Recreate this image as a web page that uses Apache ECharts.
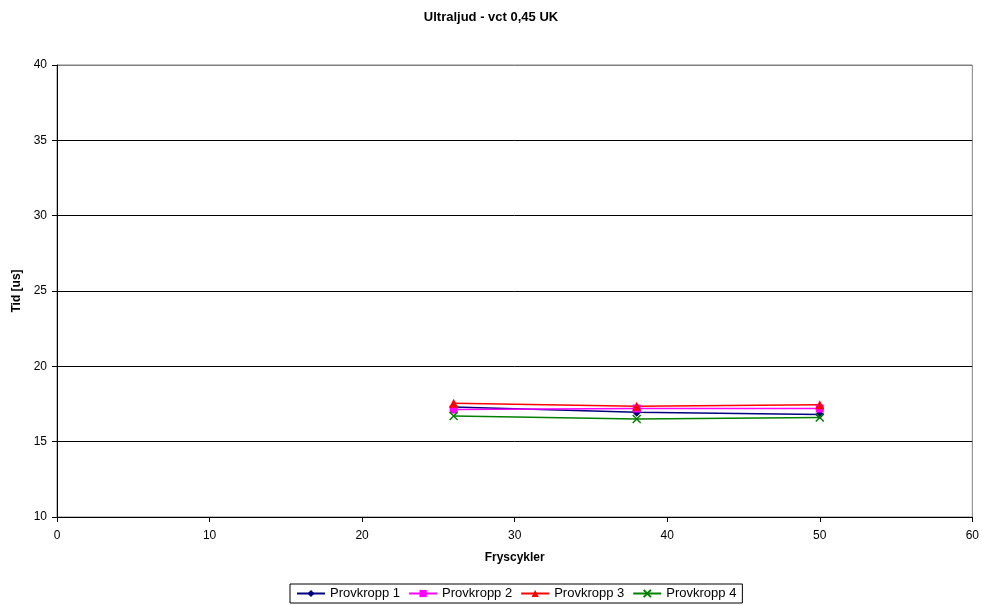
<!DOCTYPE html>
<html>
<head>
<meta charset="utf-8">
<script src="https://cdn.jsdelivr.net/npm/echarts@6/dist/echarts.min.js"></script>
<style>
  html, body { margin: 0; padding: 0; background: #fff; }
  #chart { width: 982px; height: 605px; }
</style>
</head>
<body>
<div id="chart"></div>
<script>
// Freeze cycles at which the ultrasonic transit time was measured
const cycles = [26, 38, 50];

// Transit time [us] for each specimen
const provkropp1 = [17.3, 16.95, 16.8];
const provkropp2 = [17.13, 17.2, 17.2];
const provkropp3 = [17.55, 17.35, 17.45];
const provkropp4 = [16.7, 16.5, 16.6];

const seriesNames = ['Provkropp 1', 'Provkropp 2', 'Provkropp 3', 'Provkropp 4'];
const seriesValues = [provkropp1, provkropp2, provkropp3, provkropp4];
const seriesColors = ['#000080', '#ff00ff', '#ff0000', '#008000'];
const crossPath = 'path://M0,0 L10,10 M10,0 L0,10';
const seriesSymbols = ['diamond', 'rect', 'triangle', crossPath];
const seriesSymbolSizes = [9, 8, 9, 8];

const font = 'Liberation Sans, Arial, sans-serif';

const chart = echarts.init(document.getElementById('chart'));

const series = seriesNames.map((name, i) => ({
  name: name,
  type: 'line',
  data: cycles.map((c, j) => [c, seriesValues[i][j]]),
  symbol: seriesSymbols[i],
  symbolSize: seriesSymbolSizes[i],
  showAllSymbol: true,
  lineStyle: { color: seriesColors[i], width: 1.5 },
  itemStyle: i === 3
    ? { color: 'none', borderColor: seriesColors[i], borderWidth: 1.5 }
    : { color: seriesColors[i], borderColor: seriesColors[i], borderWidth: 0 },
  emphasis: { disabled: true },
  animation: false
}));

chart.setOption({
  backgroundColor: '#fff',
  animation: false,
  textStyle: { fontFamily: font },
  title: {
    text: 'Ultraljud - vct 0,45 UK',
    left: 'center',
    top: 6,
    textStyle: { fontFamily: font, fontSize: 13, fontWeight: 'bold', color: '#000' }
  },
  legend: {
    data: seriesNames,
    bottom: 2,
    left: 290,
    itemWidth: 28,
    itemHeight: 9,
    itemGap: 8,
    padding: [3, 6, 3, 6],
    borderColor: '#000',
    borderWidth: 1,
    borderRadius: 0,
    textStyle: { fontFamily: font, fontSize: 13, color: '#000' }
  },
  grid: {
    left: 57,
    right: 7,
    top: 65,
    bottom: 88,
    show: true,
    borderColor: '#808080',
    borderWidth: 1,
    backgroundColor: '#fff'
  },
  xAxis: {
    type: 'value',
    min: 0,
    max: 60,
    interval: 10,
    name: 'Fryscykler',
    nameLocation: 'middle',
    nameGap: 35,
    nameTextStyle: { fontFamily: font, fontSize: 12, fontWeight: 'bold', color: '#000' },
    axisLine: { show: true, lineStyle: { color: '#000', width: 1 } },
    axisTick: { show: true, length: 5, inside: false, lineStyle: { color: '#000' } },
    axisLabel: { fontFamily: font, fontSize: 12, color: '#000', margin: 13 },
    splitLine: { show: false }
  },
  yAxis: {
    type: 'value',
    min: 10,
    max: 40,
    interval: 5,
    name: 'Tid [us]',
    nameLocation: 'middle',
    nameRotate: 90,
    nameGap: 32,
    nameTextStyle: { fontFamily: font, fontSize: 12, fontWeight: 'bold', color: '#000' },
    axisLine: { show: true, lineStyle: { color: '#000', width: 1 } },
    axisTick: { show: true, length: 5, inside: false, lineStyle: { color: '#000' } },
    axisLabel: { fontFamily: font, fontSize: 12, color: '#000', margin: 10 },
    splitLine: {
      show: true,
      lineStyle: { color: ['#000', '#000', '#000', '#000', '#000', '#000', '#808080'], width: 1 }
    }
  },
  series: series
});
</script>
</body>
</html>
